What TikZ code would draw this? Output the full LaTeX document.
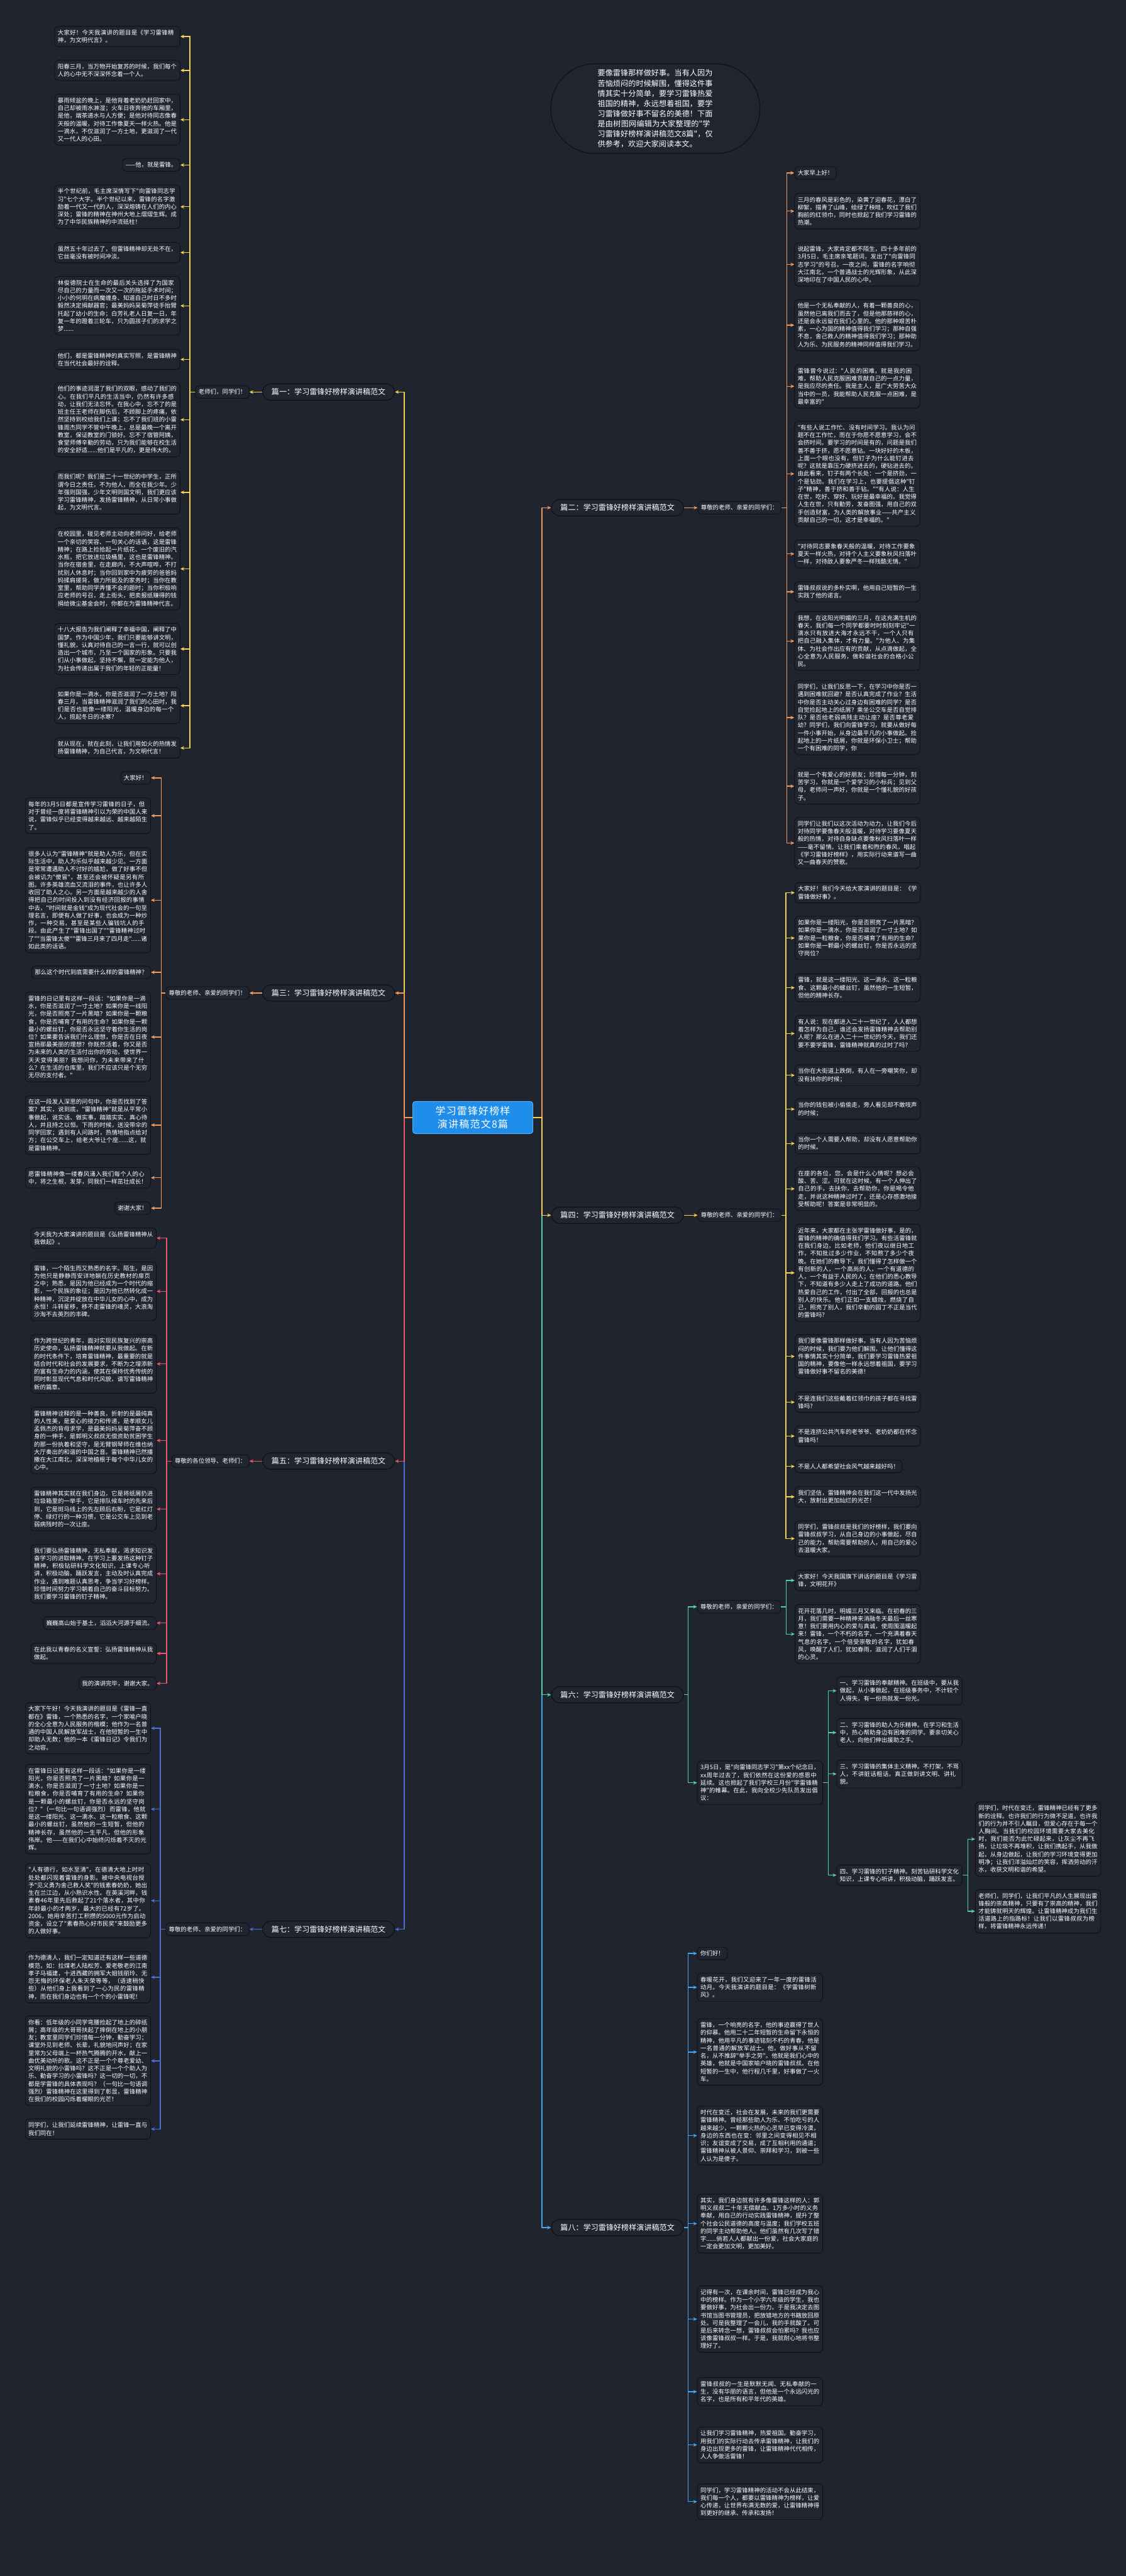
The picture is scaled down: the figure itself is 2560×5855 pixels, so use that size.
\documentclass[tikz,border=0pt]{standalone}
\usepackage{fontspec}
\newfontfamily\cjk{Noto Sans CJK SC}
\usetikzlibrary{arrows.meta}
\XeTeXlinebreaklocale "zh"
\XeTeXlinebreakskip=0pt plus 1pt
\definecolor{bg}{HTML}{20242F}
\definecolor{boxfill}{HTML}{21252F}
\definecolor{boxline}{HTML}{0E1015}
\definecolor{cyel}{HTML}{F5D14E}
\definecolor{cora}{HTML}{F39A5A}
\definecolor{cred}{HTML}{E65B63}
\definecolor{cgrn}{HTML}{52D3A3}
\definecolor{cblu}{HTML}{4C6FD6}
\definecolor{clbl}{HTML}{45A6EE}
\definecolor{rootc}{HTML}{1F8EEA}
\newcommand\tsz{\fontsize{7.68pt}{9.96pt}\selectfont}
\newcommand\lsz{\fontsize{9.84pt}{12pt}\selectfont}
\newcommand\bsz{\fontsize{9.9pt}{13.1pt}\selectfont}
\newcommand\rsz{\fontsize{13pt}{17pt}\selectfont}
\tikzset{
 tbox/.style={draw=boxline, fill=boxfill, rounded corners=0.16cm, text=white, font=\cjk\tsz, inner xsep=0.14cm, inner ysep=0.16cm, line width=0.7pt},
 tw/.style={tbox, text width=5.42cm, align=left},
 lbl/.style={draw=boxline, fill=boxfill, rounded corners=0.38cm, text=white, font=\cjk\lsz, inner xsep=0.41cm, inner ysep=0.21cm, line width=0.9pt},
 rootn/.style={draw=rootc!70!white, fill=rootc, rounded corners=0.12cm, text=white, font=\cjk\rsz, inner xsep=0.18cm, inner ysep=0.22cm, text width=5.1cm, align=center, line width=0.8pt},
 bub/.style={draw=boxline, fill=boxfill, rounded corners=2cm, text=white, font=\cjk\bsz, text width=5.25cm, align=left, minimum width=9.5cm, minimum height=4.08cm, line width=0.9pt},
 arw/.style={line width=1.1pt, -{Stealth[length=5pt,width=4.5pt]}},
 ay/.style={arw, draw=cyel},
 ao/.style={arw, draw=cora},
 ar/.style={arw, draw=cred},
 ag/.style={arw, draw=cgrn},
 ab/.style={arw, draw=cblu},
 al/.style={arw, draw=clbl}
}
\begin{document}
\begin{tikzpicture}[x=0.02cm,y=-0.02cm]
\useasboundingbox (0,0) rectangle (2560,5855);
\fill[bg] (0,0) rectangle (2560,5855);

% ---------- bubble ----------
\node[bub] (bubble) at (1490,247) {要像雷锋那样做好事。当有人因为苦恼烦闷的时候解围，懂得这件事情其实十分简单，要学习雷锋热爱祖国的精神，永远想着祖国，要学习雷锋做好事不留名的美德！下面是由树图网编辑为大家整理的"学习雷锋好榜样演讲稿范文8篇"，仅供参考，欢迎大家阅读本文。};

% ---------- root ----------
\node[rootn] (root) at (1075,2540) {学习雷锋好榜样演讲稿范文8篇};
\coordinate (tl) at (919,2540);
\coordinate (tr) at (1232,2540);

% ---------- labels ----------
\node[lbl,anchor=east] (L1) at (898,891) {篇一：学习雷锋好榜样演讲稿范文};
\node[lbl,anchor=east] (L3) at (898,2257) {篇三：学习雷锋好榜样演讲稿范文};
\node[lbl,anchor=east] (L5) at (898,3321) {篇五：学习雷锋好榜样演讲稿范文};
\node[lbl,anchor=east] (L7) at (898,4385) {篇七：学习雷锋好榜样演讲稿范文};
\node[lbl,anchor=west] (L2) at (1253,1154) {篇二：学习雷锋好榜样演讲稿范文};
\node[lbl,anchor=west] (L4) at (1253,2762) {篇四：学习雷锋好榜样演讲稿范文};
\node[lbl,anchor=west] (L6) at (1253,3852) {篇六：学习雷锋好榜样演讲稿范文};
\node[lbl,anchor=west] (L8) at (1253,5063) {篇八：学习雷锋好榜样演讲稿范文};

% ---------- intermediate ----------
\node[tbox,anchor=east] (c1) at (567,891) {老师们，同学们！};
\node[tbox,anchor=east] (c3) at (567,2257) {尊敬的老师、亲爱的同学们！};
\node[tbox,anchor=east] (c5) at (567,3321) {尊敬的各位领导、老师们：};
\node[tbox,anchor=east] (c7) at (567,4385) {尊敬的老师、亲爱的同学们：};
\node[tbox,anchor=west] (c2) at (1586,1154) {尊敬的老师、亲爱的同学们：};
\node[tbox,anchor=west] (c4) at (1586,2762) {尊敬的老师、亲爱的同学们：};
\node[tbox,anchor=west] (c6a) at (1585,3652) {尊敬的老师，亲爱的同学们：};
\node[tw,anchor=west] (c6b) at (1585,4052) {3月5日，是"向雷锋同志学习"第xx个纪念日，xx周年过去了，我们依然在这份爱的感恩中延续。这也掀起了我们学校三月份"学雷锋精神"的帷幕。在此，我向全校少先队员发出倡议：};

% ---------- section 1 ----------
\node[tw,anchor=east] (n1a) at (410,83) {大家好！今天我演讲的题目是《学习雷锋精神，为文明代言》。};
\node[tw,anchor=east] (n1b) at (410,160) {阳春三月，当万物开始复苏的时候，我们每个人的心中无不深深怀念着一个人。};
\node[tw,anchor=east] (n1c) at (410,272) {暴雨倾盆的晚上，是他背着老奶奶赶回家中，自己却被雨水淋湿；火车日夜奔驰的车厢里，是他，端茶递水与人方便；是他对待同志像春天般的温暖，对待工作像夏天一样火热。他是一滴水，不仅滋润了一方土地，更滋润了一代又一代人的心田。};
\node[tbox,anchor=east] (n1d) at (410,375) {——他，就是雷锋。};
\node[tw,anchor=east] (n1e) at (410,470) {半个世纪前，毛主席深情写下"向雷锋同志学习"七个大字。半个世纪以来，雷锋的名字激励着一代又一代的人，深深熔铸在人们的内心深处；雷锋的精神在神州大地上熠熠生辉。成为了中华民族精神的中流砥柱！};
\node[tw,anchor=east] (n1f) at (410,574) {虽然五十年过去了，但雷锋精神却无处不在，它丝毫没有被时间冲淡。};
\node[tw,anchor=east] (n1g) at (410,695) {林俊德院士在生命的最后关头选择了为国家尽自己的力量而一次又一次的拖延手术时间；小小的何玥在病魔缠身、知道自己时日不多时毅然决定捐献器官；最美妈妈吴菊萍徒手抬臂托起了幼小的生命；白芳礼老人日复一日，年复一年的蹬着三轮车，只为圆孩子们的求学之梦......};
\node[tw,anchor=east] (n1h) at (410,817) {他们，都是雷锋精神的真实写照，是雷锋精神在当代社会最好的诠释。};
\node[tw,anchor=east] (n1i) at (410,954) {他们的事迹润湿了我们的双眼，感动了我们的心。在我们平凡的生活当中，仍然有许多感动，让我们无法忘怀。在我心中，忘不了的是班主任王老师在脚伤后，不顾脚上的疼痛，依然坚持到校给我们上课；忘不了我们班的小雷锋周杰同学不管中午晚上，总是最晚一个离开教室，保证教室的门锁好。忘不了宿管阿姨，食堂师傅辛勤的劳动，只为我们能够在校生活的安全舒适......他们是平凡的，更是伟大的。};
\node[tw,anchor=east] (n1j) at (410,1119) {而我们呢？我们是二十一世纪的中学生，正所谓今日之责任，不为他人，而全在我少年。少年强则国强，少年文明则国文明，我们更应该学习雷锋精神，发扬雷锋精神，从日常小事做起，为文明代言。};
\node[tw,anchor=east] (n1k) at (410,1293) {在校园里，碰见老师主动向老师问好，给老师一个亲切的笑容、一句关心的话语，这是雷锋精神；在路上捡拾起一片纸花、一个废旧的汽水瓶，把它放进垃圾桶里，这也是雷锋精神。当你在宿舍里，在走廊内，不大声喧哗，不打扰别人休息时；当你回到家中为疲劳的爸爸妈妈揉肩搓背，做力所能及的家务时；当你在教室里，帮助同学弄懂不会的题时；当你积极响应老师的号召，走上街头，把卖报纸赚得的钱捐给微尘基金会时，你都在为雷锋精神代言。};
\node[tw,anchor=east] (n1l) at (410,1475) {十八大报告为我们阐释了幸福中国，阐释了中国梦。作为中国少年，我们只要能够讲文明，懂礼貌，认真对待自己的一言一行，就可以创造出一个城市，乃至一个国家的形象。只要我们从小事做起，坚持不懈，就一定能为他人，为社会传递出属于我们的年轻的正能量！};
\node[tw,anchor=east] (n1m) at (410,1604) {如果你是一滴水，你是否滋润了一方土地？阳春三月，当雷锋精神滋润了我们的心田时，我们是否也能像一缕阳光，温暖身边的每一个人，揽起冬日的冰寒？};
\node[tw,anchor=east] (n1n) at (410,1700) {就从现在，就在此刻，让我们用如火的热情发扬雷锋精神，为自己代言，为文明代言！};

% ---------- section 3 ----------
\node[tbox,anchor=east] (n3a) at (343,1768) {大家好！};
\node[tw,anchor=east] (n3b) at (343,1854) {每年的3月5日都是宣传学习雷锋的日子，但对于曾经一度将雷锋精神引以为荣的中国人来说，雷锋似乎已经变得越来越远、越来越陌生了。};
\node[tw,anchor=east] (n3c) at (343,2046) {很多人认为"雷锋精神"就是助人为乐，但在实际生活中，助人为乐似乎越来越少见。一方面是常常遭遇助人不讨好的尴尬，做了好事不但会被讥为"傻冒"，甚至还会被怀疑是另有所图。许多英雄流血又流泪的事件，也让许多人收回了助人之心。另一方面是越来越少的人舍得把自己的时间投入到没有经济回报的事情中去，"时间就是金钱"成为现代社会的一句至理名言，即便有人做了好事，也会成为一种炒作，一种交易，甚至是某些人骗钱坑人的手段。由此产生了"雷锋出国了""雷锋精神过时了""当雷锋太傻""雷锋三月来了四月走"......诸如此类的话语。};
\node[tbox,anchor=east] (n3d) at (343,2210) {那么这个时代到底需要什么样的雷锋精神？};
\node[tw,anchor=east] (n3e) at (343,2357) {雷锋的日记里有这样一段话："如果你是一滴水，你是否滋润了一寸土地？如果你是一线阳光，你是否照亮了一片黑暗？如果你是一颗粮食，你是否哺育了有用的生命？如果你是一颗最小的螺丝钉，你是否永远坚守着你生活的岗位？如果要告诉我们什么理想，你是否在日夜宣扬那最美丽的理想？你既然活着，你又是否为未来的人类的生活付出你的劳动，使世界一天天变得美丽？我想问你，为未来带来了什么？在生活的仓库里，我们不应该只是个无穷无尽的支付者。"};
\node[tw,anchor=east] (n3f) at (343,2557) {在这一段发人深思的问句中，你是否找到了答案？其实，说到底，"雷锋精神"就是从平常小事做起，说实话、做实事，踏踏实实，真心待人，并且持之以恒。下雨的时候，送没带伞的同学回家；遇到有人问路时，热情地指点给对方；在公交车上，给老大爷让个座......这，就是雷锋精神。};
\node[tw,anchor=east] (n3g) at (343,2677) {愿雷锋精神像一缕春风涌入我们每个人的心中，将之生根，发芽，同我们一样茁壮成长！};
\node[tbox,anchor=east] (n3h) at (343,2746) {谢谢大家！};

% ---------- section 5 ----------
\node[tw,anchor=east] (n5a) at (356,2814) {今天我为大家演讲的题目是《弘扬雷锋精神从我做起》。};
\node[tw,anchor=east] (n5b) at (356,2935) {雷锋，一个陌生而又熟悉的名字。陌生，是因为他只是静静而安详地躺在历史教材的扉页之中；熟悉，是因为他已经成为一个时代的缩影，一个民族的象征；是因为他已然转化成一种精神，沉淀并绽放在中华儿女的心中，成为永恒！斗转星移，移不走雷锋的魂灵，大浪淘沙淘不去英烈的丰碑。};
\node[tw,anchor=east] (n5c) at (356,3100) {作为跨世纪的青年，面对实现民族复兴的崇高历史使命，弘扬雷锋精神就要从我做起。在新的时代条件下，培育雷锋精神，最重要的就是结合时代和社会的发展要求，不断为之增添新的富有生命力的内涵，使其在保持优秀传统的同时彰显现代气息和时代风貌，谱写雷锋精神新的篇章。};
\node[tw,anchor=east] (n5d) at (356,3274) {雷锋精神诠释的是一种善良，折射的是最纯真的人性美，是爱心的接力和传递，是孝顺女儿孟佩杰的背母求学，是最美妈妈吴菊萍奋不顾身的一伸手，是郭明义叔叔无偿资助贫困学生的那一份执着和坚守，是无臂钢琴师在维也纳大厅奏出的和谐的中国之音。雷锋精神已然播撒在大江南北，深深地植根于每个中华儿女的心中。};
\node[tw,anchor=east] (n5e) at (356,3430) {雷锋精神其实就在我们身边，它是将纸屑扔进垃圾箱里的一举手，它是排队候车时的先来后到，它是斑马线上的先左顾后右盼，它是红灯停、绿灯行的一种习惯，它是公交车上见到老弱病残时的一次让座。};
\node[tw,anchor=east] (n5f) at (356,3577) {我们要弘扬雷锋精神，无私奉献，渴求知识发奋学习的进取精神。在学习上要发扬这种钉子精神，积极钻研科学文化知识，上课专心听讲，积极动脑，踊跃发言，主动及时认真完成作业，遇到难题认真思考，争当学习好榜样。珍惜时间努力学习朝着自己的奋斗目标努力。我们要学习雷锋的钉子精神。};
\node[tbox,anchor=east] (n5g) at (356,3689) {巍巍高山始于基土，滔滔大河源于细流。};
\node[tw,anchor=east] (n5h) at (356,3758) {在此我以青春的名义宣誓：弘扬雷锋精神从我做起。};
\node[tbox,anchor=east] (n5i) at (356,3826) {我的演讲完毕，谢谢大家。};

% ---------- section 7 ----------
\node[tw,anchor=east] (n7a) at (343,3928) {大家下午好！今天我演讲的题目是《雷锋一直都在》雷锋，一个熟悉的名字，一个家喻户晓的全心全意为人民服务的楷模；他作为一名普通的中国人民解放军战士，在他短暂的一生中却助人无数；他的一本《雷锋日记》令我们为之动容。};
\node[tw,anchor=east] (n7b) at (343,4112) {在雷锋日记里有这样一段话："如果你是一缕阳光，你是否照亮了一片黑暗？如果你是一滴水，你是否滋润了一寸土地？如果你是一粒粮食，你是否哺育了有用的生命？如果你是一颗最小的螺丝钉，你是否永远的坚守岗位？"（一句比一句语调强烈）而雷锋，他就是这一缕阳光、这一滴水、这一粒粮食、这颗最小的螺丝钉，虽然他的一生短暂，但他的精神长存，虽然他的一生平凡，但他的形象伟岸。他——在我们心中始终闪烁着不灭的光辉。};
\node[tw,anchor=east] (n7c) at (343,4320) {"人有德行，如水至清"，在德清大地上时时处处都闪现着雷锋的身影。被中央电视台授予"见义勇为舍己救人奖"的钱素春奶奶，她出生在兰江边，从小熟识水性。在英溪河畔，钱素春46年里先后救起了21个落水者，其中你年龄最小的才两岁，最大的已经有72岁了。2006，她用辛苦打工积攒的5000元作为启动资金，设立了"素春热心好市民奖"来鼓励更多的人做好事。};
\node[tw,anchor=east] (n7d) at (343,4494) {作为德清人，我们一定知道还有这样一些道德模范，如：拉煤老人陆松芳、爱老敬老的江南孝子马福建，十进西藏的拥军大姐钱丽玲、无怨无悔的环保老人朱天荣等等，（语速稍快些）从他们身上我看到了一心为民的雷锋精神，而在我们身边也有一个个的小雷锋呢！};
\node[tw,anchor=east] (n7e) at (343,4684) {你看：低年级的小同学弯腰捡起了地上的碎纸屑；高年级的大哥哥扶起了摔倒在地上的小朋友；教室里同学们珍惜每一分钟，勤奋学习；课堂外见到老师、长辈，礼貌地问声好；在家里常为父母端上一杯热气腾腾的开水，献上一曲优美动听的歌。这不正是一个个尊老爱幼、文明礼貌的小雷锋吗？这不正是一个个助人为乐、勤奋学习的小雷锋吗？这一切的一切，不都是学雷锋的具体表现吗？（一句比一句语调强烈）雷锋精神在这里得到了彰显，雷锋精神在我们的校园闪烁着耀眼的光芒！};
\node[tw,anchor=east] (n7f) at (343,4839) {同学们，让我们延续雷锋精神，让雷锋一直与我们同在！};

% ---------- section 2 ----------
\node[tbox,anchor=west] (n2a) at (1806,393) {大家早上好！};
\node[tw,anchor=west] (n2b) at (1806,480) {三月的春风是彩色的，染黄了迎春花，漂白了柳絮，描青了山峰，绘绿了秧畦，吹红了我们胸前的红领巾，同时也掀起了我们学习雷锋的热潮。};
\node[tw,anchor=west] (n2c) at (1806,601) {说起雷锋，大家肯定都不陌生，四十多年前的3月5日，毛主席亲笔题词，发出了"向雷锋同志学习"的号召。一夜之间，雷锋的名字响彻大江南北，一个普通战士的光辉形象，从此深深地印在了中国人民的心中。};
\node[tw,anchor=west] (n2d) at (1806,739) {他是一个无私奉献的人，有着一颗善良的心，虽然他已离我们而去了，但是他那慈祥的心，还是会永远留在我们心里的。他的那种艰苦朴素，一心为国的精神值得我们学习；那种自强不息，舍己救人的精神值得我们学习；那种助人为乐、为民服务的精神同样值得我们学习。};
\node[tw,anchor=west] (n2e) at (1806,878) {雷锋曾今说过："人民的困难，就是我的困难，帮助人民克服困难贡献自己的一点力量，是我应尽的责任。我是主人，是广大劳苦大众当中的一员，我能帮助人民克服一点困难，是最幸富的"};
\node[tw,anchor=west] (n2f) at (1806,1077) {"有些人说工作忙、没有时间学习。我认为问题不在工作忙，而在于你愿不愿意学习，会不会挤时间。要学习的时间是有的，问题是我们善不善于挤，愿不愿意钻。一块好好的木板，上面一个眼也没有，但钉子为什么能钉进去呢？这就是靠压力硬挤进去的，硬钻进去的。由此看来，钉子有两个长处：一个是挤劲，一个是钻劲。我们在学习上，也要提倡这种"钉子"精神，善于挤和善于钻。""有人说：人生在世，吃好、穿好、玩好是最幸福的。我觉得人生在世，只有勤劳，发奋图强，用自己的双手创造财富，为人类的解放事业——共产主义贡献自己的一切，这才是幸福的。"};
\node[tw,anchor=west] (n2g) at (1806,1259) {"对待同志要象春天般的温暖，对待工作要象夏天一样火热，对待个人主义要象秋风扫落叶一样，对待敌人要象严冬一样残酷无情。"};
\node[tw,anchor=west] (n2h) at (1806,1345) {雷锋叔叔说的多朴实啊，他用自己短暂的一生实践了他的诺言。};
\node[tw,anchor=west] (n2i) at (1806,1457) {我想，在这阳光明媚的三月，在这充满生机的春天，我们每一个同学都要时时刻刻牢记"一滴水只有放进大海才永远不干，一个人只有把自己融入集体，才有力量。"为他人、为集体、为社会作出应有的贡献，从点滴做起，全心全意为人民服务，做和谐社会的合格小公民。};
\node[tw,anchor=west] (n2j) at (1806,1631) {同学们，让我们反思一下，在学习中你是否一遇到困难就回避？是否认真完成了作业？生活中你是否主动关心过身边有困难的同学？是否自觉捡起地上的纸屑？乘坐公交车是否自觉排队？是否给老弱病残主动让座？是否尊老爱幼？同学们，我们向雷锋学习，就要从做好每一件小事开始，从身边最平凡的小事做起。捡起地上的一片纸屑，你就是环保小卫士；帮助一个有困难的同学，你};
\node[tw,anchor=west] (n2k) at (1806,1787) {就是一个有爱心的好朋友；珍惜每一分钟，刻苦学习，你就是一个爱学习的小标兵；见到父母，老师问一声好，你就是一个懂礼貌的好孩子。};
\node[tw,anchor=west] (n2l) at (1806,1916) {同学们让我们以这次活动为动力，让我们今后对待同学要像春天般温暖，对待学习要像夏天般的热情，对待自身缺点要像秋风扫落叶一样——毫不留情。让我们乘着和煦的春风，唱起《学习雷锋好榜样》，用实际行动来谱写一曲又一曲春天的赞歌。};

% ---------- section 4 ----------
\node[tw,anchor=west] (n4a) at (1807,2029) {大家好！我们今天给大家演讲的题目是：《学雷锋做好事》。};
\node[tw,anchor=west] (n4b) at (1807,2132) {如果你是一缕阳光，你是否照亮了一片黑暗？如果你是一滴水，你是否滋润了一寸土地？如果你是一粒粮食，你是否哺育了有用的生命？如果你是一颗最小的螺丝钉，你是否永远的坚守岗位？};
\node[tw,anchor=west] (n4c) at (1807,2245) {雷锋，就是这一缕阳光、这一滴水、这一粒粮食、这颗最小的螺丝钉，虽然他的一生短暂，但他的精神长存。};
\node[tw,anchor=west] (n4d) at (1807,2349) {有人说：现在都进入二十一世纪了，人人都想着怎样为自己，谁还会发扬雷锋精神去帮助别人呢？那么在进入二十一世纪的今天，我们还要不要学雷锋，雷锋精神就真的过时了吗？};
\node[tw,anchor=west] (n4e) at (1807,2444) {当你在大街道上跌倒，有人在一旁嘲笑你，却没有扶你的时候；};
\node[tw,anchor=west] (n4f) at (1807,2521) {当你的钱包被小偷偷走，旁人看见却不敢吱声的时候；};
\node[tw,anchor=west] (n4g) at (1807,2599) {当你一个人需要人帮助，却没有人愿意帮助你的时候。};
\node[tw,anchor=west] (n4h) at (1807,2702) {在座的各位，您，会是什么心情呢？想必会酸、苦、涩。可就在这时候，有一个人伸出了自己的手，去扶你，去帮助你，你是喝令他走，并说这种精神过时了，还是心存感激地接受帮助呢！答案是非常明显的。};
\node[tw,anchor=west] (n4i) at (1807,2893) {近年来，大家都在主张学雷锋做好事，是的，雷锋的精神的确值得我们学习。有些活雷锋就在我们身边，比如老师，他们夜以继日地工作，不知批过多少作业，不知熬了多少个夜晚。在她们的教导下，我们懂得了怎样做一个有创新的人，一个高尚的人，一个有道德的人，一个有益于人民的人；在他们的悉心教导下，不知道有多少人走上了成功的道路。他们热爱自己的工作，付出了全部，回报的也总是别人的快乐。他们正如一支蜡烛，燃烧了自己，照亮了别人，我们辛勤的园丁不正是当代的雷锋吗？};
\node[tw,anchor=west] (n4j) at (1807,3083) {我们要像雷锋那样做好事。当有人因为苦恼烦闷的时候，我们要为他们解围，让他们懂得这件事情其实十分简单，我们要学习雷锋热爱祖国的精神，要像他一样永远想着祖国，要学习雷锋做好事不留名的美德！};
\node[tw,anchor=west] (n4k) at (1807,3187) {不是连我们这些戴着红领巾的孩子都在寻找雷锋吗?};
\node[tw,anchor=west] (n4l) at (1807,3264) {不是连挤公共汽车的老爷爷、老奶奶都在怀念雷锋吗！};
\node[tbox,anchor=west] (n4m) at (1807,3333) {不是人人都希望社会风气越来越好吗！};
\node[tw,anchor=west] (n4n) at (1807,3402) {我们坚信，雷锋精神会在我们这一代中发扬光大，放射出更加灿烂的光芒！};
\node[tw,anchor=west] (n4o) at (1807,3497) {同学们，雷锋叔叔是我们的好榜样，我们要向雷锋叔叔学习，从自己身边的小事做起，尽自己的能力，帮助需要帮助的人，用自己的爱心去温暖大家。};

% ---------- section 6 ----------
\node[tw,anchor=west] (n6a) at (1807,3592) {大家好！今天我国旗下讲话的题目是《学习雷锋，文明花开》};
\node[tw,anchor=west] (n6b) at (1807,3714) {花开花落几时，明媚三月又来临。在初春的三月，我们需要一种精神来消融冬天最后一丝寒意！我们要用内心的爱与真诚，使周围温暖起来！雷锋，一个不朽的名字，一个充满着春天气息的名字，一个倍受崇敬的名字，犹如春风，唤醒了人们，犹如春雨，滋润了人们干涸的心灵。};
\node[tw,anchor=west] (n6c) at (1902,3843) {一、学习雷锋的奉献精神。在班级中，要从我做起，从小事做起，在班级事务中，不计较个人得失，有一份热就发一份光。};
\node[tw,anchor=west] (n6d) at (1902,3938) {二、学习雷锋的助人为乐精神。在学习和生活中，热心帮助身边有困难的同学。要亲切关心老人，向他们伸出援助之手。};
\node[tw,anchor=west] (n6e) at (1902,4032) {三、学习雷锋的集体主义精神。不打架，不骂人，不讲脏话粗话，真正做到讲文明、讲礼貌。};
\node[tw,anchor=west] (n6f) at (1902,4262) {四、学习雷锋的钉子精神。刻苦钻研科学文化知识，上课专心听讲，积极动脑，踊跃发言。};
\node[tw,anchor=west] (n6g) at (2217,4180) {同学们，时代在变迁，雷锋精神已经有了更多新的诠释。也许我们的行为微不足道，也许我们的行为并不引人瞩目，但爱心存在于每一个人胸间。当我们的校园环境需要大家去美化时，我们能否为此忙碌起来，让灰尘不再飞扬，让垃圾不再堆积，让我们携起手，从我做起，从身边做起，让我们的学习环境变得更加明净；让我们洋溢灿烂的笑容，挥洒劳动的汗水，收获文明和谐的希望。};
\node[tw,anchor=west] (n6h) at (2217,4344) {老师们，同学们，让我们平凡的人生展现出雷锋般的崇高精神，只要有了崇高的精神，我们才能铸就明天的辉煌。让雷锋精神成为我们生活道路上的指路标！让我们以雷锋叔叔为榜样，将雷锋精神永远传递！};

% ---------- section 8 ----------
\node[tbox,anchor=west] (n8a) at (1585,4440) {你们好！};
\node[tw,anchor=west] (n8b) at (1585,4517) {春暖花开，我们又迎来了一年一度的雷锋活动月。今天我演讲的题目是：《学雷锋树新风》。};
\node[tw,anchor=west] (n8c) at (1585,4664) {雷锋，一个响亮的名字，他的事迹赢得了世人的仰慕。他用二十二年短暂的生命留下永恒的精神，他用平凡的事迹铭刻不朽的青春，他是一名普通的解放军战士。他，做好事从不留名，从不推辞"举手之劳"。他就是我们心中的英雄，他就是中国家喻户晓的雷锋叔叔。在他短暂的一生中，他行程几千里，好事做了一火车。};
\node[tw,anchor=west] (n8d) at (1585,4854) {时代在变迁，社会在发展，未来的我们更需要雷锋精神。曾经那些助人为乐、不怕吃亏的人越来越少，一颗颗火热的心灵早已变得冷漠，身边的东西也在变：邻里之间变得相见不相识；友谊变成了交易，成了互相利用的通道；雷锋精神从被人景仰、崇拜和学习，到被一些人认为是傻子。};
\node[tw,anchor=west] (n8e) at (1585,5054) {其实，我们身边就有许多像雷锋这样的人：郭明义叔叔二十年无偿献血、1万多小时的义务奉献，用自己的行动实践雷锋精神，提升了整个社会公民道德的高度与温度；我们学校五班的同学主动帮助他人。他们虽然有几次写了错字......倘若人人都献出一份爱，社会大家庭的一定会更加文明，更加美好。};
\node[tw,anchor=west] (n8f) at (1585,5271) {记得有一次，在课余时间，雷锋已经成为我心中的榜样。作为一个小学六年级的学生，我也要做好事，为社会出一份力。于是我决定去图书馆当图书管理员，把放错地方的书籍放回原处。可是我整理了一会儿，我的手就酸了。可是后来转念一想，雷锋叔叔会怕累吗？我也应该像雷锋叔叔一样。于是，我就耐心地将书整理好了。};
\node[tw,anchor=west] (n8g) at (1585,5436) {雷锋叔叔的一生是默默无闻、无私奉献的一生，没有华丽的语言，但他是一个永远闪光的名字，也是所有和平年代的英雄。};
\node[tw,anchor=west] (n8h) at (1585,5557) {让我们学习雷锋精神，热爱祖国。勤奋学习，用我们的实际行动去传承雷锋精神，让我们的身边出现更多的雷锋，让雷锋精神代代相传，人人争做活雷锋！};
\node[tw,anchor=west] (n8i) at (1585,5686) {同学们，学习雷锋精神的活动不会从此结束，我们每一个人，都要以雷锋精神为榜样，让爱心传递，让世界布满无数的爱，让雷锋精神得到更好的继承、传承和发扬！};

% ---------- connectors: root to labels ----------
\draw[ab] (root.west) -- (tl) |- (L7.east);
\draw[ar] (root.west) -- (tl) |- (L5.east);
\draw[ay] (root.west) -- (tl) |- (L1.east);
\draw[ao] (root.west) -- (tl) |- (L3.east);
\draw[al] (root.east) -- (tr) |- (L8.west);
\draw[ag] (root.east) -- (tr) |- (L6.west);
\draw[ao] (root.east) -- (tr) |- (L2.west);
\draw[ay] (root.east) -- (tr) |- (L4.west);

% ---------- labels to intermediates ----------
\draw[ay] (L1.west) -- (c1.east);
\draw[ao] (L3.west) -- (c3.east);
\draw[ar] (L5.west) -- (c5.east);
\draw[ab] (L7.west) -- (c7.east);
\draw[ao] (L2.east) -- (c2.west);
\draw[ay] (L4.east) -- (c4.west);
\draw[ag] (L6.east) -- ++(10,0) |- (c6a.west);
\draw[ag] (L6.east) -- ++(10,0) |- (c6b.west);

% ---------- children ----------
\foreach \n in {n1a,n1b,n1c,n1d,n1e,n1f,n1g,n1h,n1i,n1j,n1k,n1l,n1m,n1n}
  \draw[ay] (c1.west) -- ++(-12,0) |- (\n.east);
\foreach \n in {n3a,n3b,n3c,n3d,n3e,n3f,n3g,n3h}
  \draw[ao] (c3.west) -- ++(-10,0) |- (\n.east);
\foreach \n in {n5a,n5b,n5c,n5d,n5e,n5f,n5g,n5h,n5i}
  \draw[ar] (c5.west) -- ++(-11,0) |- (\n.east);
\foreach \n in {n7a,n7b,n7c,n7d,n7e,n7f}
  \draw[ab] (c7.west) -- ++(-12,0) |- (\n.east);
\foreach \n in {n2a,n2b,n2c,n2d,n2e,n2f,n2g,n2h,n2i,n2j,n2k,n2l}
  \draw[ao] (c2.east) -- ++(12,0) |- (\n.west);
\foreach \n in {n4a,n4b,n4c,n4d,n4e,n4f,n4g,n4h,n4i,n4j,n4k,n4l,n4m,n4n,n4o}
  \draw[ay] (c4.east) -- ++(10,0) |- (\n.west);
\foreach \n in {n6a,n6b}
  \draw[ag] (c6a.east) -- ++(12,0) |- (\n.west);
\foreach \n in {n6c,n6d,n6e,n6f}
  \draw[ag] (c6b.east) -- ++(12,0) |- (\n.west);
\foreach \n in {n6g,n6h}
  \draw[ag] (n6f.east) -- ++(12,0) |- (\n.west);
\foreach \n in {n8a,n8b,n8c,n8d,n8e,n8f,n8g,n8h,n8i}
  \draw[al] (L8.east) -- ++(10,0) |- (\n.west);
\end{tikzpicture}
\end{document}
